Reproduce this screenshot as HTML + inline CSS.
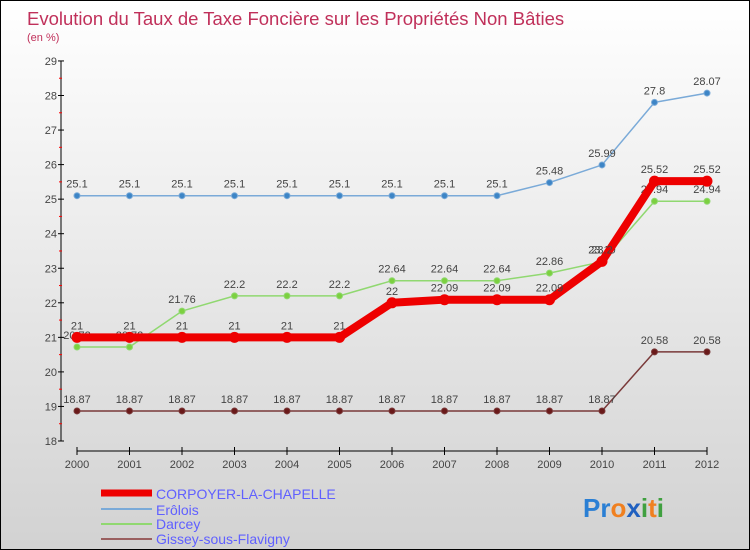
<!DOCTYPE html>
<html><head><meta charset="utf-8"><style>
body{margin:0}
#c{width:750px;height:550px;position:relative;box-sizing:border-box;border:1px solid #000;background:linear-gradient(#fff,#d2d2d2);font-family:"Liberation Sans",sans-serif;overflow:hidden}
svg text{font-family:"Liberation Sans",sans-serif}
</style></head><body>
<div id="c">
<svg id="s" width="750" height="550">
<text x="26" y="24" font-size="18.5" fill="#c0305a">Evolution du Taux de Taxe Foncière sur les Propriétés Non Bâties</text>
<text x="26" y="40" font-size="11" fill="#c0305a">(en %)</text>
</svg>
</div>
<script>
const years=[2000,2001,2002,2003,2004,2005,2006,2007,2008,2009,2010,2011,2012];
const yTicks=[18,19,20,21,22,23,24,25,26,27,28,29];
const corpoyer=[21,21,21,21,21,21,22,22.09,22.09,22.09,23.2,25.52,25.52];
const erolois=[25.1,25.1,25.1,25.1,25.1,25.1,25.1,25.1,25.1,25.48,25.99,27.8,28.07];
const darcey=[20.72,20.72,21.76,22.2,22.2,22.2,22.64,22.64,22.64,22.86,23.19,24.94,24.94];
const gissey=[18.87,18.87,18.87,18.87,18.87,18.87,18.87,18.87,18.87,18.87,18.87,20.58,20.58];
const s=document.getElementById('s');const NS='http://www.w3.org/2000/svg';
function X(i){return 76+i*52.5}
function Y(v){return 440-(v-18)*34.55}
function el(t,a,p){const e=document.createElementNS(NS,t);for(const k in a)e.setAttribute(k,a[k]);(p||s).appendChild(e);return e}
let ya=el('line',{x1:60,y1:Y(29),x2:60,y2:Y(18),stroke:'#000','stroke-width':1});


yTicks.forEach(v=>{
 el('line',{x1:57,x2:63,y1:Y(v),y2:Y(v),stroke:'#000'});
 if(v<29)el('line',{x1:58,x2:61,y1:Y(v+0.5),y2:Y(v+0.5),stroke:'#f00'});
 const t=el('text',{x:56,y:Y(v)+4,'font-size':11,fill:'#444','text-anchor':'end'});t.textContent=v;
 
 
});
let xa=el('line',{x1:X(0),y1:450,x2:X(12),y2:450,stroke:'#000'});


years.forEach((y,i)=>{
 el('line',{x1:X(i),x2:X(i),y1:446,y2:454,stroke:'#000'});
 const t=el('text',{x:X(i),y:467,'font-size':11,fill:'#444','text-anchor':'middle'});t.textContent=y;
 
 
});
function series(d,col,w,r,name,dot){
 const g=el('g',{});
 
 
 el('polyline',{points:d.map((v,i)=>X(i)+','+Y(v)).join(' '),fill:'none',stroke:col,'stroke-width':w,'stroke-linejoin':'round'},g);
 d.forEach((v,i)=>{el('circle',{cx:X(i),cy:Y(v),r:r,fill:dot,stroke:col,'stroke-width':1},g);
  const t=el('text',{x:X(i),y:Y(v)-8,'font-size':11,fill:'#444','text-anchor':'middle'},g);t.textContent=v;});
}
series(gissey,'#7a3a3a',1.5,3,'series-gissey','#6a1a1a');
series(darcey,'#90d870',1.5,3,'series-darcey','#7cd040');
series(erolois,'#7aaad8',1.5,3,'series-erolois','#3d85c6');
series(corpoyer,'#ee0000',8,5,'series-corpoyer','#ee0000');
const leg=[['CORPOYER-LA-CHAPELLE','#ee0000',7,492,498],['Erôlois','#7aaad8',2,508,514],['Darcey','#90d870',2,523,528],['Gissey-sous-Flavigny','#9a6060',2,538,543]];
leg.forEach(l=>{
 const g=el('g',{});
 
 
 el('line',{x1:100,x2:151,y1:l[3],y2:l[3],stroke:l[1],'stroke-width':l[2]},g);
 const t=el('text',{x:155,y:l[4],'font-size':14,fill:'#6060ff'},g);t.textContent=l[0];
});
const p=el('text',{x:582,y:516,'font-size':26,'font-weight':'bold'});


[['Pr','#2a7fd4'],['o','#f08020'],['x','#2060c0'],['i','#40a040'],['t','#f08020'],['i','#40a040']].forEach(a=>{const sp=el('tspan',{fill:a[1]},p);sp.textContent=a[0];});
</script>
</body></html>
